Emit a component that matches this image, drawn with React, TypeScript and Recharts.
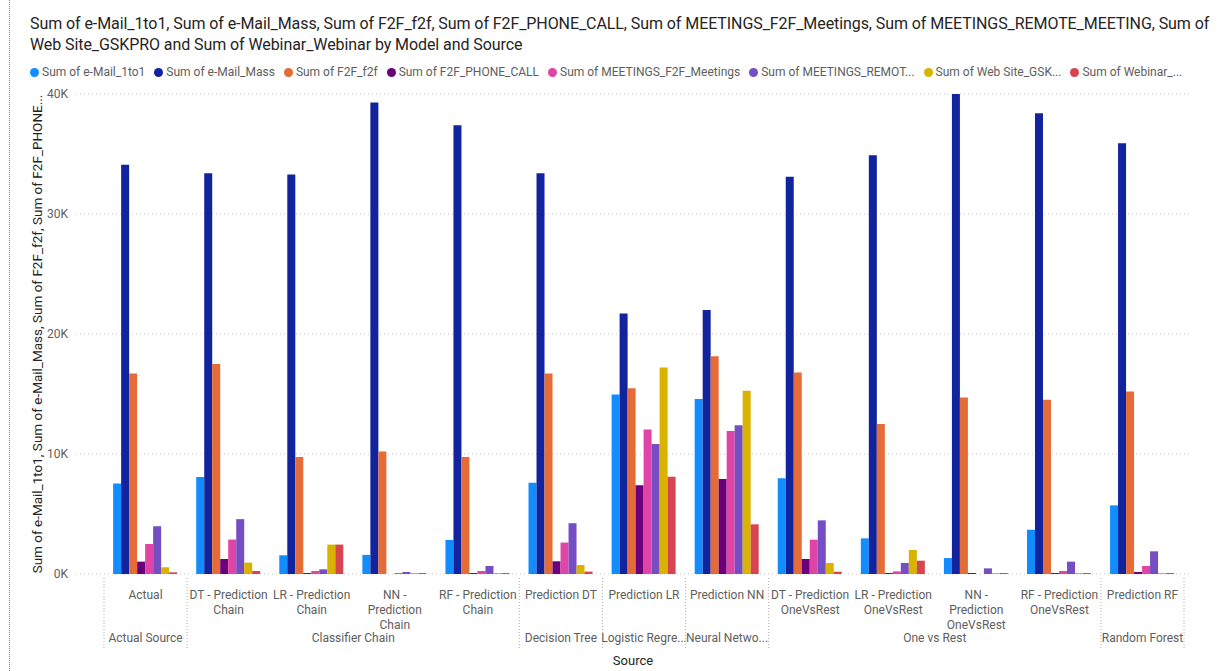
import React from "react"
import { BarChart, Bar, XAxis, YAxis, CartesianGrid } from "recharts"

// categories (Source) and the Model groups they belong to
const sources = [
  "Actual",
  "DT - Prediction Chain",
  "LR - Prediction Chain",
  "NN - Prediction Chain",
  "RF - Prediction Chain",
  "Prediction DT",
  "Prediction LR",
  "Prediction NN",
  "DT - Prediction OneVsRest",
  "LR - Prediction OneVsRest",
  "NN - Prediction OneVsRest",
  "RF - Prediction OneVsRest",
  "Prediction RF",
]
const sourceLines = [
  ["Actual"],
  ["DT - Prediction", "Chain"],
  ["LR - Prediction", "Chain"],
  ["NN -", "Prediction", "Chain"],
  ["RF - Prediction", "Chain"],
  ["Prediction DT"],
  ["Prediction LR"],
  ["Prediction NN"],
  ["DT - Prediction", "OneVsRest"],
  ["LR - Prediction", "OneVsRest"],
  ["NN -", "Prediction", "OneVsRest"],
  ["RF - Prediction", "OneVsRest"],
  ["Prediction RF"],
]
const models = ["Actual Source", "Classifier Chain", "Decision Tree", "Logistic Regre...", "Neural Netwo...", "One vs Rest", "Random Forest"]
const modelSpans = [1, 4, 1, 1, 1, 4, 1]

// series values
const eMail1to1 = [7550, 8080, 1560, 1590, 2840, 7600, 14950, 14580, 7970, 2970, 1330, 3690, 5720]
const eMailMass = [34100, 33400, 33300, 39300, 37400, 33400, 21700, 22000, 33100, 34900, 40000, 38400, 35900]
const f2f = [16700, 17500, 9750, 10200, 9750, 16700, 15470, 18150, 16800, 12500, 14700, 14530, 15200]
const phoneCall = [1030, 1250, 80, 0, 80, 1060, 7400, 7920, 1250, 80, 80, 80, 170]
const meetingsF2F = [2500, 2870, 250, 80, 250, 2620, 12050, 11920, 2860, 220, 0, 250, 670]
const remoteMeeting = [3980, 4570, 390, 170, 670, 4230, 10840, 12390, 4470, 920, 470, 1030, 1890]
const webSite = [560, 950, 2450, 80, 80, 750, 17200, 15280, 920, 2000, 80, 80, 80]
const webinar = [140, 250, 2450, 80, 80, 200, 8100, 4140, 190, 1110, 80, 80, 80]

const yTicks = [0, 10000, 20000, 30000, 40000]

const series = [
  { key: "e1to1", name: "Sum of e-Mail_1to1", legend: "Sum of e-Mail_1to1", color: "#118DFF", values: eMail1to1 },
  { key: "mass", name: "Sum of e-Mail_Mass", legend: "Sum of e-Mail_Mass", color: "#12239E", values: eMailMass },
  { key: "f2f", name: "Sum of F2F_f2f", legend: "Sum of F2F_f2f", color: "#E66C37", values: f2f },
  { key: "phone", name: "Sum of F2F_PHONE_CALL", legend: "Sum of F2F_PHONE_CALL", color: "#6B007B", values: phoneCall },
  { key: "meet", name: "Sum of MEETINGS_F2F_Meetings", legend: "Sum of MEETINGS_F2F_Meetings", color: "#E044A7", values: meetingsF2F },
  { key: "remote", name: "Sum of MEETINGS_REMOTE_MEETING", legend: "Sum of MEETINGS_REMOT...", color: "#744EC2", values: remoteMeeting },
  { key: "web", name: "Sum of Web Site_GSKPRO", legend: "Sum of Web Site_GSK...", color: "#D9B300", values: webSite },
  { key: "webinar", name: "Sum of Webinar_Webinar", legend: "Sum of Webinar_...", color: "#D64550", values: webinar },
]

const data = sources.map((s, i) => {
  const row: any = { source: s }
  series.forEach((sr) => (row[sr.key] = sr.values[i]))
  return row
})

const FONT = "'Segoe UI', Roboto, sans-serif"
const LABEL = "#605E5C"
const DARK = "#252423"

// layout
const W = 1219
const H = 671
const PLOT_LEFT = 76
const PLOT_RIGHT = 1190
const PLOT_TOP = 94
const PLOT_BOTTOM = 574
const PAD_L = 28
const PAD_R = 6
const BAND = (PLOT_RIGHT - PLOT_LEFT - PAD_L - PAD_R) / sources.length

const groupStart: { [i: number]: number } = {}
let acc = 0
modelSpans.forEach((span, g) => {
  groupStart[acc] = g
  acc += span
})

function SourceTick(props: any) {
  const { x, payload } = props
  const i = payload.index
  const lines = sourceLines[i] || [payload.value]
  const g = groupStart[i]
  return (
    <g>
      {lines.map((ln, k) => (
        <text key={k} x={x} y={599 + k * 15} textAnchor="middle" fill={LABEL} fontSize={12} fontFamily={FONT}>
          {ln}
        </text>
      ))}
      {g !== undefined && (
        <>
          <line x1={x - BAND / 2} x2={x - BAND / 2} y1={578} y2={649} stroke="#B3B0AD" strokeDasharray="1 2" />
          <text x={x + ((modelSpans[g] - 1) * BAND) / 2} y={642} textAnchor="middle" fill={LABEL} fontSize={12} fontFamily={FONT}>
            {models[g]}
          </text>
        </>
      )}
      {i === sources.length - 1 && (
        <line x1={x + BAND / 2} x2={x + BAND / 2} y1={578} y2={649} stroke="#B3B0AD" strokeDasharray="1 2" />
      )}
    </g>
  )
}

const fmtK = (v: number) => `${Math.round(v / 1000)}K`

export default function App() {
  return (
    <div style={{ position: "absolute", left: 0, top: 0, width: W, height: H, background: "#fff", fontFamily: FONT }}>
      <div style={{ position: "absolute", left: 9, top: 0, height: H, borderLeft: "1px dotted #8a8886" }} />
      <div style={{ position: "absolute", left: 30, top: 13, color: DARK, fontSize: 16, letterSpacing: -0.08, lineHeight: "21px", fontFamily: "Roboto, sans-serif", whiteSpace: "nowrap" }}>
        <div>Sum of e-Mail_1to1, Sum of e-Mail_Mass, Sum of F2F_f2f, Sum of F2F_PHONE_CALL, Sum of MEETINGS_F2F_Meetings, Sum of MEETINGS_REMOTE_MEETING, Sum of</div>
        <div>Web Site_GSKPRO and Sum of Webinar_Webinar by Model and Source</div>
      </div>
      <div style={{ position: "absolute", left: 30, top: 65, display: "flex", gap: 9, fontSize: 12, color: LABEL, whiteSpace: "nowrap" }}>
        {series.map((s) => (
          <div key={s.key} style={{ display: "flex", alignItems: "center", gap: 3 }}>
            <span style={{ width: 9, height: 9, borderRadius: "50%", background: s.color, display: "inline-block" }} />
            <span>{s.legend}</span>
          </div>
        ))}
      </div>
      <div style={{ position: "absolute", left: 0, top: 0 }}>
        <BarChart
          width={W}
          height={H}
          data={data}
          margin={{ top: PLOT_TOP, right: W - PLOT_RIGHT, bottom: 0, left: 0 }}
          barCategoryGap="11%"
          barGap={0}
        >
          <CartesianGrid vertical={false} stroke="#C8C6C4" strokeDasharray="1 3" />
          <XAxis
            dataKey="source"
            height={H - PLOT_BOTTOM}
            padding={{ left: PAD_L, right: PAD_R }}
            axisLine={false}
            tickLine={false}
            interval={0}
            tick={<SourceTick />}
            label={{
              value: "Source",
              position: "insideBottom",
              offset: 6,
              fill: DARK,
              fontSize: 13,
              fontFamily: FONT,
            }}
          />
          <YAxis
            width={PLOT_LEFT}
            domain={[0, 40000]}
            ticks={yTicks}
            tickFormatter={fmtK}
            axisLine={false}
            tickLine={false}
            tick={{ fill: LABEL, fontSize: 12, fontFamily: FONT }}
            label={{
              value: "Sum of e-Mail_1to1, Sum of e-Mail_Mass, Sum of F2F_f2f, Sum of F2F_PHONE...",
              angle: -90,
              position: "insideLeft",
              offset: 37,
              fill: DARK,
              fontSize: 13.5,
              fontFamily: FONT,
              style: { textAnchor: "middle" },
            }}
          />
          {series.map((s) => (
            <Bar key={s.key} dataKey={s.key} name={s.name} fill={s.color} isAnimationActive={false} />
          ))}
        </BarChart>
      </div>
    </div>
  )
}
